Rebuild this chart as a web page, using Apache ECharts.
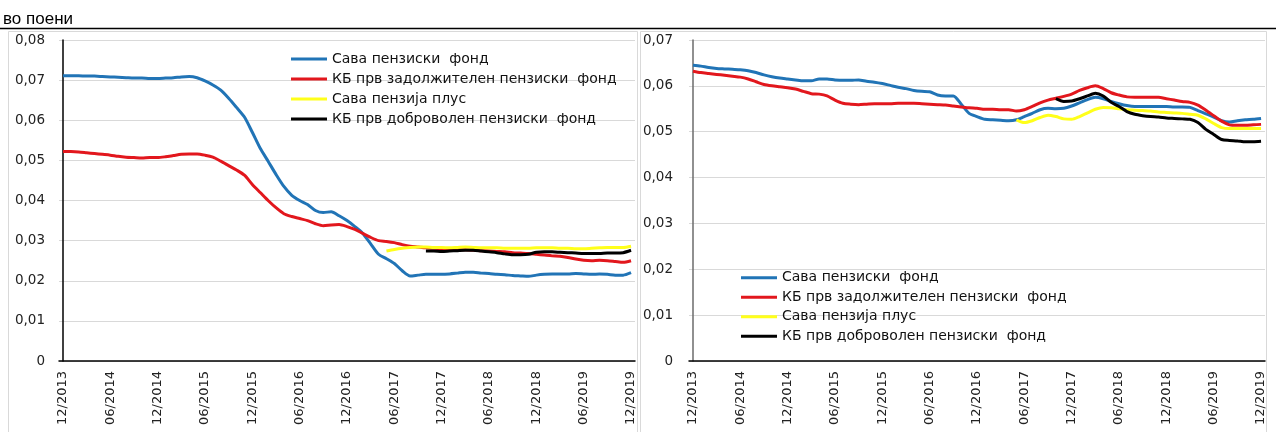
<!DOCTYPE html>
<html>
<head>
<meta charset="utf-8">
<script src="https://cdn.jsdelivr.net/npm/echarts@6/dist/echarts.min.js"></script>
<style>
html,body{margin:0;padding:0;background:#fff;}
#c{width:1276px;height:432px;}
</style>
</head>
<body>
<div id="c"></div>
<script>
// ---- data ----
const titleText = 'во поени';
const seriesNames = ['Сава пензиски  фонд', 'КБ прв задолжителен пензиски  фонд', 'Сава пензија плус', 'КБ прв доброволен пензиски  фонд'];
const tickLabels = ['12/2013','06/2014','12/2014','06/2015','12/2015','06/2016','12/2016','06/2017','12/2017','06/2018','12/2018','06/2019','12/2019'];
const tickIndex = [0,6,12,18,24,30,36,42,48,54,60,66,72];

// left panel (monthly, 12/2013 .. 12/2019)
const leftSava = [
.0711,.0711,.0711,.0710,.0710,.0709,.0708,.0707,.0706,.0705,.0705,.0704,.0704,.0705,.0706,.0708,.0709,.0706,.0698,.0688,
.0675,.0655,.0632,.0608,.0570,.0530,.0498,.0465,.0435,.0413,.0400,.0390,.0375,.0370,.0372,.0362,.0350,.0335,.0318,.0292,
.0266,.0255,.0243,.0225,.0212,.0214,.0216,.0216,.0216,.0217,.0219,.0221,.0221,.0219,.0218,.0216,.0215,.0213,.0212,.0211,
.0214,.0216,.0217,.0217,.0217,.0218,.0217,.0216,.0217,.0216,.0214,.0214,.0220];
const leftKbZad = [
.0522,.0522,.0521,.0519,.0517,.0515,.0513,.0510,.0508,.0507,.0506,.0507,.0507,.0509,.0512,.0515,.0516,.0516,.0513,.0508,
.0498,.0487,.0476,.0463,.0440,.0420,.0400,.0382,.0367,.0360,.0355,.0350,.0342,.0337,.0339,.0340,.0335,.0328,.0318,.0308,
.0300,.0298,.0295,.0290,.0286,.0284,.0282,.0281,.0280,.0279,.0278,.0277,.0276,.0275,.0274,.0273,.0272,.0270,.0269,.0268,
.0266,.0264,.0262,.0261,.0258,.0254,.0251,.0250,.0251,.0250,.0248,.0246,.0250];
const savaPlusStart = 41;
const leftSavaPlus = [
.0274,.0278,.0281,.0283,.0284,.0284,.0283,.0283,.0282,.0283,.0284,.0283,.0282,.0282,.0282,.0281,.0281,.0281,.0281,.0282,
.0282,.0282,.0281,.0281,.0280,.0280,.0281,.0282,.0283,.0283,.0283,.0286];
const kbDobrStart = 46;
const leftKbDobr = [
.0274,.0274,.0273,.0274,.0275,.0276,.0276,.0274,.0272,.0270,.0267,.0265,.0265,.0266,.0271,.0272,.0272,.0271,.0270,.0269,
.0268,.0268,.0268,.0269,.0269,.0270,.0276];

// right panel
const rightSava = [
.0645,.0643,.0640,.0638,.0637,.0636,.0635,.0633,.0629,.0624,.0620,.0617,.0615,.0613,.0611,.0611,.0615,.0615,.0613,.0612,
.0612,.0613,.0610,.0608,.0605,.0601,.0597,.0594,.0590,.0588,.0587,.0580,.0578,.0578,.0560,.0540,.0533,.0527,.0526,.0525,
.0524,.0526,.0533,.0540,.0548,.0551,.0550,.0551,.0556,.0563,.0570,.0575,.0572,.0566,.0561,.0557,.0555,.0555,.0555,.0555,
.0555,.0554,.0554,.0553,.0546,.0539,.0532,.0524,.0521,.0524,.0526,.0527,.0529];
const rightKbZad = [
.0632,.0629,.0627,.0625,.0623,.0621,.0619,.0615,.0609,.0603,.0600,.0598,.0596,.0593,.0588,.0583,.0582,.0578,.0569,.0562,
.0560,.0559,.0560,.0561,.0561,.0561,.0562,.0562,.0562,.0561,.0560,.0559,.0558,.0556,.0554,.0552,.0551,.0549,.0549,.0548,
.0548,.0545,.0548,.0555,.0563,.0569,.0573,.0577,.0582,.0590,.0596,.0600,.0594,.0585,.0580,.0576,.0575,.0575,.0575,.0575,
.0572,.0569,.0566,.0564,.0558,.0547,.0535,.0523,.0515,.0514,.0514,.0515,.0516];
const rightSavaPlus = [
.0526,.0520,.0524,.0531,.0536,.0533,.0528,.0527,.0533,.0541,.0549,.0553,.0552,.0550,.0548,.0547,.0546,.0545,.0543,.0542,
.0541,.0540,.0538,.0536,.0528,.0518,.0509,.0507,.0507,.0507,.0507,.0507];
const rightKbDobr = [
.0572,.0566,.0567,.0572,.0578,.0584,.0578,.0564,.0555,.0544,.0538,.0535,.0533,.0532,.0530,.0529,.0528,.0527,.0520,.0505,
.0494,.0483,.0481,.0480,.0478,.0478,.0479];

const leftYMax = 0.08, rightYMax = 0.07, yStep = 0.01;

// ---- chart ----
const colors = ['#2174B6', '#E2171D', '#FFFF1A', '#000000'];
const toPairs = (arr, start) => arr.map((v, k) => [start + k, v]);
const yFmt = v => (Math.abs(v) < 1e-9 ? '0' : v.toFixed(2).replace('.', ','));
const xFmt = v => { const k = tickIndex.indexOf(Math.round(v)); return k >= 0 ? tickLabels[k] : ''; };

function xAxis(gridIndex) {
  return {
    type: 'value', gridIndex, min: -0.5, max: 72.5,
    axisLine: { show: true, lineStyle: { color: '#000', width: 1.5 } },
    axisTick: { show: false },
    splitLine: { show: false },
    axisLabel: {
      customValues: tickIndex, formatter: xFmt, rotate: 90, margin: 10,
      fontFamily: 'DejaVu Sans', fontSize: 13, color: '#222'
    }
  };
}
function yAxis(gridIndex, max, lineColor) {
  return {
    type: 'value', gridIndex, min: 0, max: max, interval: yStep,
    axisLine: { show: true, lineStyle: { color: lineColor, width: 1.5 } },
    axisTick: { show: false },
    splitLine: { show: true, lineStyle: { color: '#d9d9d9', width: 1 } },
    axisLabel: { formatter: yFmt, margin: gridIndex === 0 ? 14 : 16, fontFamily: 'DejaVu Sans', fontSize: 13.5, color: '#222' }
  };
}
function lineSeries(name, data, idx, color) {
  return {
    name, type: 'line', xAxisIndex: idx, yAxisIndex: idx, data,
    showSymbol: false, symbol: 'none', smooth: 0.25,
    lineStyle: { color, width: 3 }, itemStyle: { color },
    emphasis: { disabled: true }, z: 3
  };
}
function legend(left, top, lh) {
  return {
    orient: 'vertical', left, top, padding: 0, itemGap: 0,
    itemWidth: 36, itemHeight: 3, icon: 'rect',
    data: seriesNames,
    textStyle: { fontFamily: 'DejaVu Sans', fontSize: 14, color: '#111', lineHeight: lh }
  };
}

const chart = echarts.init(document.getElementById('c'), null, { renderer: 'canvas' });
chart.setOption({
  animation: false,
  backgroundColor: '#fff',
  color: colors,
  graphic: [
    { type: 'text', left: 3, top: 11, style: { text: titleText, fontFamily: 'Liberation Sans', fontSize: 17, fill: '#000' } },
    { type: 'line', shape: { x1: 0, y1: 28.5, x2: 1276, y2: 28.5 }, style: { stroke: '#000', lineWidth: 1.5 } },
    { type: 'rect', shape: { x: 8.5, y: 31.5, width: 629, height: 420 }, style: { fill: 'none', stroke: '#d9d9d9', lineWidth: 1 }, z: -1 },
    { type: 'rect', shape: { x: 640.5, y: 31.5, width: 626, height: 420 }, style: { fill: 'none', stroke: '#d9d9d9', lineWidth: 1 }, z: -1 }
  ],
  grid: [
    { left: 59, top: 40, width: 576, height: 321, containLabel: false },
    { left: 689, top: 40, width: 576, height: 321, containLabel: false }
  ],
  legend: [legend(291, 49, 20), legend(741, 268, 19.5)],
  xAxis: [xAxis(0), xAxis(1)],
  yAxis: [yAxis(0, leftYMax, '#000'), yAxis(1, rightYMax, '#6b6b6b')],
  series: [
    lineSeries(seriesNames[0], toPairs(leftSava, 0), 0, colors[0]),
    lineSeries(seriesNames[1], toPairs(leftKbZad, 0), 0, colors[1]),
    lineSeries(seriesNames[2], toPairs(leftSavaPlus, savaPlusStart), 0, colors[2]),
    lineSeries(seriesNames[3], toPairs(leftKbDobr, kbDobrStart), 0, colors[3]),
    lineSeries(seriesNames[0], toPairs(rightSava, 0), 1, colors[0]),
    lineSeries(seriesNames[1], toPairs(rightKbZad, 0), 1, colors[1]),
    lineSeries(seriesNames[2], toPairs(rightSavaPlus, savaPlusStart), 1, colors[2]),
    lineSeries(seriesNames[3], toPairs(rightKbDobr, kbDobrStart), 1, colors[3])
  ]
});
</script>
</body>
</html>
